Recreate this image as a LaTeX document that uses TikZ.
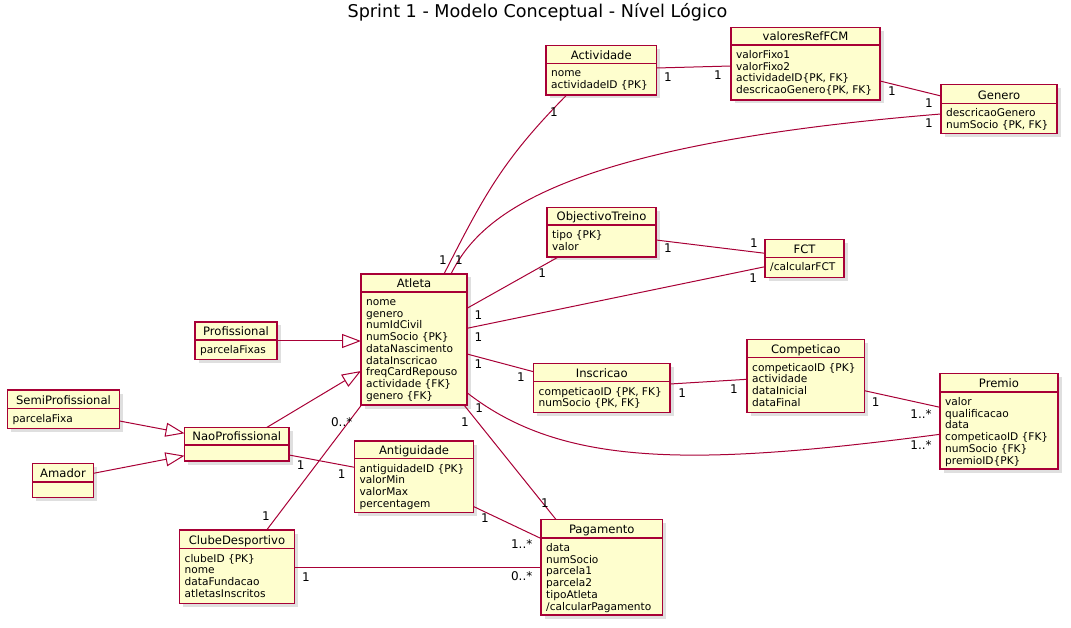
\documentclass[tikz,border=0pt]{standalone}
\usepackage{fontspec}
\setmainfont{DejaVu Sans}
\usetikzlibrary{shadows,calc,arrows.meta}
\definecolor{umlfill}{HTML}{FEFECE}
\definecolor{umlred}{HTML}{A80036}
\tikzset{
  clsbox/.style={draw=umlred, line width=1.5pt, fill=umlfill, rectangle, inner sep=0pt, outer sep=0pt,
    drop shadow={shadow xshift=3.5pt, shadow yshift=-3.5pt, opacity=0.25}},
  clsborder/.style={draw=umlred, line width=1.5pt},
  clstitle/.style={anchor=base, inner sep=0pt, font=\fontsize{11.6}{14}\selectfont},
  clsattr/.style={anchor=north west, inner sep=0pt, align=left, font=\fontsize{10.6}{11.7}\selectfont},
  conn/.style={draw=umlred, line width=1pt},
  gen/.style={conn, -{Triangle[open, length=19pt, width=14pt, line width=1pt]}},
  lbl/.style={inner sep=0pt, font=\fontsize{12}{14}\selectfont},
}
\newcommand\umlclass[8]{%
  \node[clsbox, minimum width={(#4-#2)*1pt}, minimum height={(#6-#3)*1pt}, anchor=north west] (#1) at (#2,#3) {};
  \draw[clsborder] (#2,#5) -- (#4,#5);
  \node[clstitle] (#1-t) at ({(#2+#4)/2},#5-4.3) {#7};
  \node[clsattr] (#1-a) at (#2+5,#5+4.3) {\rule{0pt}{9pt}#8};
}
\begin{document}
\begin{tikzpicture}[x=1pt,y=-1pt]
\useasboundingbox (0,0) rectangle (1071,628);
\node[anchor=base, inner sep=0pt, font=\fontsize{17.6}{20}\selectfont] (title) at (537.5,17.3) {Sprint 1 - Modelo Conceptual - Nível Lógico};

\umlclass{Actividade}{546}{45.5}{656.5}{63.5}{95}{Actividade}{nome\\actividadeID {\{PK\}}}
\umlclass{valoresRefFCM}{731}{27.5}{880}{45}{100}{valoresRefFCM}{valorFixo1\\valorFixo2\\actividadeID{\{PK, FK\}}\\descricaoGenero{\{PK, FK\}}}
\umlclass{Genero}{941}{84.5}{1057}{103.5}{133.5}{Genero}{descricaoGenero\\numSocio {\{PK, FK\}}}
\umlclass{ObjectivoTreino}{547}{207.5}{656}{225}{257}{ObjectivoTreino}{tipo {\{PK\}}\\valor}
\umlclass{FCT}{765}{239.5}{844}{257.5}{277.5}{FCT}{/calcularFCT}
\umlclass{Atleta}{361}{274}{467}{292}{405}{Atleta}{nome\\genero\\numIdCivil\\numSocio {\{PK\}}\\dataNascimento\\dataInscricao\\freqCardRepouso\\actividade {\{FK\}}\\genero {\{FK\}}}
\umlclass{Profissional}{195}{322}{277}{340}{359.5}{Profissional}{parcelaFixas}
\umlclass{SemiProfissional}{7.5}{390}{119.5}{408.5}{428.5}{SemiProfissional}{parcelaFixa}
\umlclass{NaoProfissional}{184.5}{427.5}{289}{445}{461}{NaoProfissional}{}
\umlclass{Amador}{32.5}{463.5}{93.5}{482}{497.5}{Amador}{}
\umlclass{Inscricao}{533.5}{363.5}{670}{381.5}{412.5}{Inscricao}{competicaoID {\{PK, FK\}}\\numSocio {\{PK, FK\}}}
\umlclass{Competicao}{747}{339.5}{864.5}{357.5}{412.5}{Competicao}{competicaoID {\{PK\}}\\actividade\\dataInicial\\dataFinal}
\umlclass{Premio}{940}{373.5}{1058}{392}{469}{Premio}{valor\\qualificacao\\data\\competicaoID {\{FK\}}\\numSocio {\{FK\}}\\premioID{\{PK\}}}
\umlclass{Antiguidade}{354.5}{441}{473.5}{458.5}{512.5}{Antiguidade}{antiguidadeID {\{PK\}}\\valorMin\\valorMax\\percentagem}
\umlclass{ClubeDesportivo}{179.5}{530}{294.5}{548.5}{603.5}{ClubeDesportivo}{clubeID {\{PK\}}\\nome\\dataFundacao\\atletasInscritos}
\umlclass{Pagamento}{541}{519.5}{662.5}{538}{615}{Pagamento}{data\\numSocio\\parcela1\\parcela2\\tipoAtleta\\/calcularPagamento}

% associations
\draw[conn] ($(Actividade.north east)+(0,22.5)$) -- ($(valoresRefFCM.north west)+(0,38.5)$);
\draw[conn] ($(valoresRefFCM.north east)+(0,53.5)$) -- ($(Genero.north west)+(0,11.5)$);
\draw[conn] ($(Atleta.north west)+(90,0)$) .. controls (480,215) and (560,145) .. ($(Genero.north west)+(0,29.5)$);
\draw[conn] ($(Atleta.north west)+(83,0)$) .. controls (484.9,193.8) and (503.1,159.6) .. ($(Actividade.south west)+(20.7,0)$);
\draw[conn] ($(Atleta.north east)+(0,34.3)$) -- ($(ObjectivoTreino.south west)+(11.3,0)$);
\draw[conn] ($(ObjectivoTreino.north east)+(0,32.5)$) -- ($(FCT.north west)+(0,13.8)$);
\draw[conn] ($(Atleta.north east)+(0,54.3)$) -- ($(FCT.north west)+(0,27.2)$);
\draw[conn] ($(Atleta.north east)+(0,80)$) -- ($(Inscricao.north west)+(0,8.2)$);
\draw[conn] ($(Inscricao.north east)+(0,20.5)$) -- ($(Competicao.north west)+(0,39.8)$);
\draw[conn] ($(Competicao.north east)+(0,51.2)$) -- ($(Premio.north west)+(0,33.8)$);
\draw[conn] ($(Atleta.north east)+(0,118.7)$) .. controls (562.3,467.1) and (692.5,466.8) .. ($(Premio.north west)+(0,60.8)$);
\draw[conn] ($(Atleta.south east)+(-3,0)$) -- ($(Pagamento.north west)+(15,0)$);
\draw[conn] ($(Atleta.south west)+(0.5,0)$) -- ($(ClubeDesportivo.north west)+(87.2,0)$);
\draw[conn] ($(NaoProfissional.north east)+(0,27.5)$) -- ($(Antiguidade.north west)+(0,26.3)$);
\draw[conn] ($(Antiguidade.north east)+(0,65.5)$) -- ($(Pagamento.north west)+(0,19)$);
\draw[conn] ($(ClubeDesportivo.north east)+(0,37.3)$) -- ($(Pagamento.north west)+(0,47.8)$);

% generalizations
\draw[gen] ($(Profissional.north east)+(0,19)$) -- ($(Atleta.north west)+(0,67)$);
\draw[gen] ($(NaoProfissional.north west)+(82.2,0)$) -- ($(Atleta.north west)+(0,97)$);
\draw[gen] ($(SemiProfissional.north east)+(0,31)$) -- ($(NaoProfissional.north west)+(0,5.8)$);
\draw[gen] ($(Amador.north east)+(0,9.8)$) -- ($(NaoProfissional.north west)+(0,28.2)$);

% multiplicities
\node[lbl] (m1a) at (668,77.5) {1};
\node[lbl] (m1b) at (718,75.5) {1};
\node[lbl] (m2a) at (892,91) {1};
\node[lbl] (m2b) at (929,103.5) {1};
\node[lbl] (m3a) at (459,260) {1};
\node[lbl] (m3b) at (929,123) {1};
\node[lbl] (m4a) at (443,260) {1};
\node[lbl] (m4b) at (554,112) {1};
\node[lbl] (m5a) at (478.5,315.5) {1};
\node[lbl] (m5b) at (542.3,272.7) {1};
\node[lbl] (m6a) at (668,248.3) {1};
\node[lbl] (m6b) at (754,243.3) {1};
\node[lbl] (m7a) at (478.5,336.7) {1};
\node[lbl] (m7b) at (753.3,277.7) {1};
\node[lbl] (m8a) at (478.5,364.3) {1};
\node[lbl] (m8b) at (521,377.3) {1};
\node[lbl] (m9a) at (682.3,392.7) {1};
\node[lbl] (m9b) at (734,389.3) {1};
\node[lbl] (m10a) at (875.7,401.7) {1};
\node[lbl] (m10b) at (921,414.3) {1..*};
\node[lbl] (m11a) at (479.3,408.3) {1};
\node[lbl] (m11b) at (921,445) {1..*};
\node[lbl] (m12a) at (465,421.7) {1};
\node[lbl] (m12b) at (545,503.3) {1};
\node[lbl] (m13a) at (341.7,421.7) {0..*};
\node[lbl] (m13b) at (266,516) {1};
\node[lbl] (m14a) at (300.7,465) {1};
\node[lbl] (m14b) at (341.7,474) {1};
\node[lbl] (m15a) at (485,518.3) {1};
\node[lbl] (m15b) at (521.7,544) {1..*};
\node[lbl] (m16a) at (306,576.7) {1};
\node[lbl] (m16b) at (521.7,576) {0..*};
\end{tikzpicture}
\end{document}
